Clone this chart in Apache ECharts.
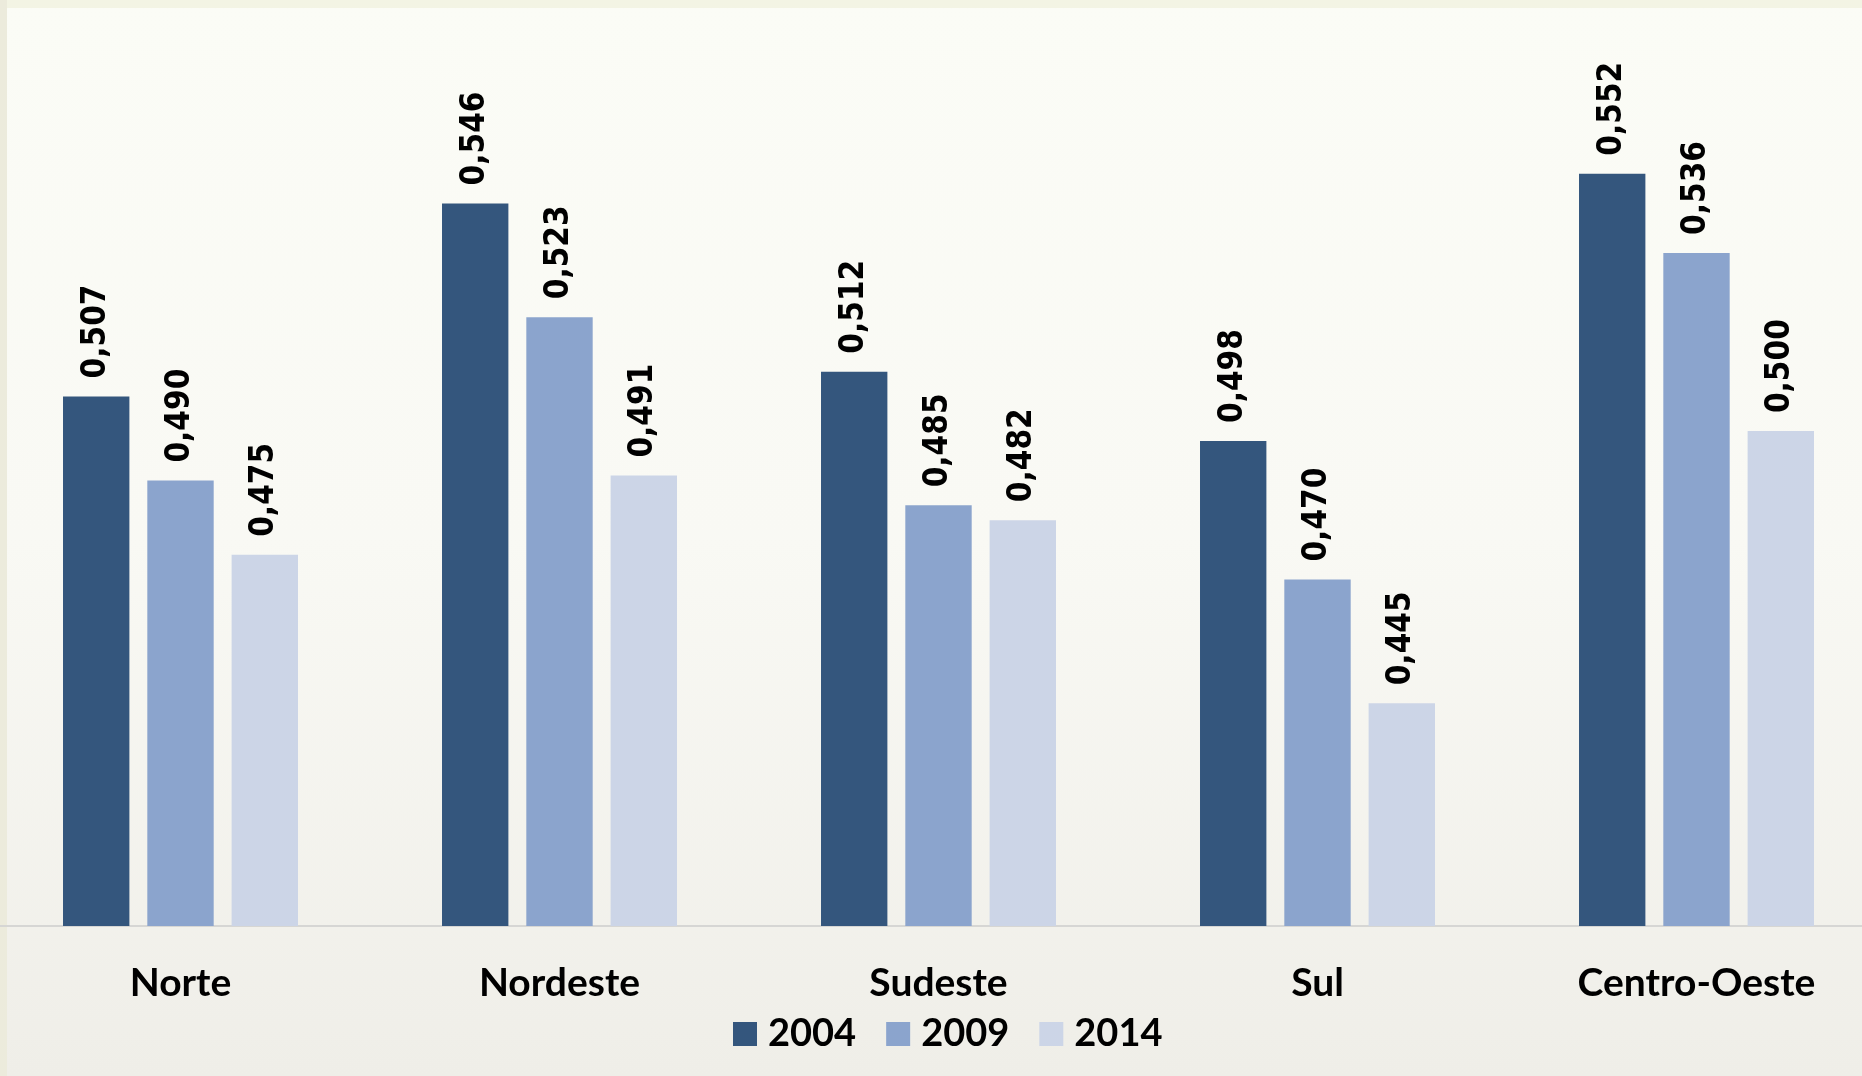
<!DOCTYPE html>
<head>
    <meta charset="utf-8">
    <title>regioes</title>
    <script src="https://cdn.jsdelivr.net/npm/echarts@6/dist/echarts.min.js"></script>
    <style>
        html, body { margin: 0; padding: 0; overflow: hidden; width: 1862px; height: 1076px; }
        /* o grafico original vaza um pouco pelas bordas */
        #main { position: absolute; left: -9px; top: 0; }
    </style>
</head>
<body>
    <div id="main" style="width:1895px;height:1076px"></div>
    <script type="text/javascript">
    // dados
    var regioes = ['Norte', 'Nordeste', 'Sudeste', 'Sul', 'Centro-Oeste'];
    var anos = ['2004', '2009', '2014'];
    var v2004 = [0.507, 0.546, 0.512, 0.498, 0.552];
    var v2009 = [0.490, 0.523, 0.485, 0.470, 0.536];
    var v2014 = [0.475, 0.491, 0.482, 0.445, 0.500];
    var cores = ['#34567d', '#8ba4cd', '#ccd5e7'];

    var myChart = echarts.init(document.getElementById('main'));

    function serie(nome, dados, cor) {
        return {
            name: nome,
            type: 'bar',
            data: dados,
            barGap: '27%',
            barCategoryGap: '38%',
            itemStyle: { color: cor },
            label: {
                show: true,
                position: 'top',
                rotate: 90,
                align: 'left',
                verticalAlign: 'middle',
                distance: 18,
                fontFamily: 'DejaVu Sans Condensed',
                fontWeight: 'bold',
                fontSize: 33,
                color: '#000',
                formatter: function (p) { return p.value.toFixed(3).replace('.', ','); }
            }
        };
    }

    myChart.setOption({
        backgroundColor: {
            type: 'linear', x: 0, y: 0, x2: 0, y2: 1,
            colorStops: [
                { offset: 0, color: '#fbfcf6' },
                { offset: 0.5, color: '#f9f9f4' },
                { offset: 1, color: '#efeee8' }
            ]
        },
        animation: false,
        graphic: [
            { type: 'rect', left: 0, top: 0, shape: { width: 1895, height: 8 }, style: { fill: '#f3f4e4' }, silent: true },
            { type: 'rect', left: 0, top: 0, shape: { width: 16, height: 1076 }, style: { fill: '#ecebdc' }, silent: true }
        ],
        legend: {
            data: anos,
            icon: 'rect',
            left: 737,
            top: 1010,
            itemWidth: 24,
            itemHeight: 24,
            itemGap: 30,
            textStyle: {
                fontFamily: 'Lato',
                fontWeight: 'bold',
                fontSize: 38,
                color: '#000',
                padding: [0, 0, 0, 6]
            }
        },
        grid: {
            left: 0,
            right: 0,
            top: 0,
            bottom: 150,
            containLabel: false
        },
        xAxis: {
            type: 'category',
            data: regioes,
            axisTick: { show: false },
            axisLine: { lineStyle: { color: '#d6d6d4', width: 2 } },
            axisLabel: {
                margin: 38,
                fontFamily: 'Lato',
                fontWeight: 'bold',
                fontSize: 39,
                color: '#000'
            }
        },
        yAxis: {
            type: 'value',
            min: 0.4,
            max: 0.5871,
            show: false,
            splitLine: { show: false }
        },
        series: [
            serie(anos[0], v2004, cores[0]),
            serie(anos[1], v2009, cores[1]),
            serie(anos[2], v2014, cores[2])
        ]
    });
    </script>
</body>
